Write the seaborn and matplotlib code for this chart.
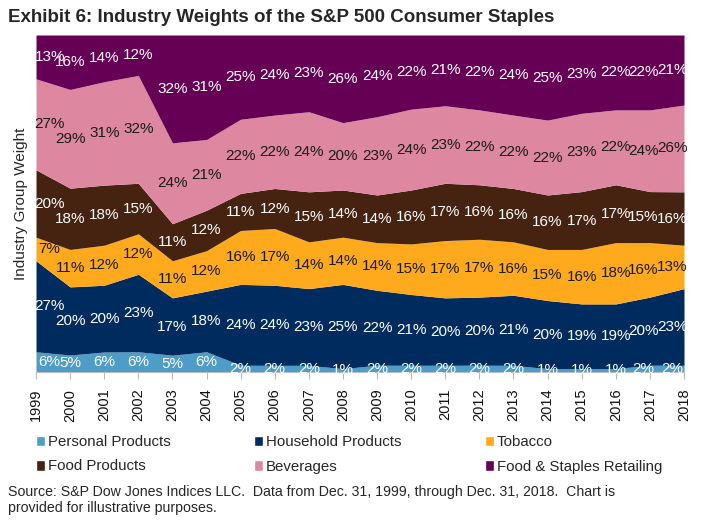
import numpy as np
import pandas as pd
import matplotlib
matplotlib.use("Agg")
import matplotlib.pyplot as plt
import seaborn as sns
from matplotlib.patches import Patch

# Industry group weights (%)
years = list(range(1999, 2019))
personal = [6, 5, 6, 6, 5, 6, 2, 2, 2, 1, 2, 2, 2, 2, 2, 1, 1, 1, 2, 2]
household = [27, 20, 20, 23, 17, 18, 24, 24, 23, 25, 22, 21, 20, 20, 21, 20, 19, 19, 20, 23]
tobacco = [7, 11, 12, 12, 11, 12, 16, 17, 14, 14, 14, 15, 17, 17, 16, 15, 16, 18, 16, 13]
food = [20, 18, 18, 15, 11, 12, 11, 12, 15, 14, 14, 16, 17, 16, 16, 16, 17, 17, 15, 16]
beverages = [27, 29, 31, 32, 24, 21, 22, 22, 24, 20, 23, 24, 23, 22, 22, 22, 23, 22, 24, 26]
retailing = [13, 16, 14, 12, 32, 31, 25, 24, 23, 26, 24, 22, 21, 22, 24, 25, 23, 22, 22, 21]

names = ["Personal Products", "Household Products", "Tobacco",
         "Food Products", "Beverages", "Food & Staples Retailing"]
colors = ["#4E9CC8", "#002B5E", "#FFAA1C", "#462211", "#DD88A0", "#660055"]
text_colors = ["white", "white", "#1a1a1a", "white", "#1a1a1a", "white"]

df = pd.DataFrame(dict(zip(names, [personal, household, tobacco, food, beverages, retailing])),
                  index=years)

sns.set_style("white")
plt.rcParams['font.family'] = ['Liberation Sans', 'DejaVu Sans']

# rounded labels do not always add to 100, so scale each year to 100 for the areas
shares = df.div(df.sum(axis=1), axis=0) * 100

fig = plt.figure(figsize=(7.03, 5.30), dpi=100)
ax = fig.add_axes([36 / 703, 1 - 372 / 530, 648 / 703, 337 / 530])
ax.stackplot(shares.index, *[shares[c] for c in names], colors=colors, linewidth=0)
ax.set_xlim(1999, 2018)
ax.set_ylim(0, 100)

# percentage labels in the middle of each band, nudged inward at the ends
nudge = {1999: 0.4, 2017: -0.2, 2018: -0.35}
cum = shares.cumsum(axis=1)
for i, name in enumerate(names):
    mid = cum[name] - shares[name] / 2
    for yr in years:
        ax.text(yr + nudge.get(yr, 0), mid[yr], f"{df.loc[yr, name]}%", ha="center", va="center",
                fontsize=11, color=text_colors[i])

ax.set_xticks(years)
ax.set_xticklabels([str(y) for y in years], rotation=90, fontsize=10.5, color="#111111")
ax.set_yticks([])
ax.tick_params(axis="x", direction="out", length=5, color="#BBBBBB", bottom=True, pad=7)
for s in ["top", "right", "left"]:
    ax.spines[s].set_visible(False)
ax.spines["bottom"].set_color("#BBBBBB")
ax.set_ylabel("Industry Group Weight", fontsize=11, labelpad=6)

fig.text(8 / 703, 1 - 18 / 530, "Exhibit 6: Industry Weights of the S&P 500 Consumer Staples",
         fontsize=13.5, fontweight="bold", va="center", ha="left")

# legend, filled row by row
order = [0, 3, 1, 4, 2, 5]
handles = [Patch(facecolor=colors[i], label=names[i]) for i in order]
fig.legend(handles=handles, ncol=3, loc="upper left",
           bbox_to_anchor=(30 / 703, 1 - 429 / 530), frameon=False,
           fontsize=10.8, handlelength=0.6, handleheight=0.7, handletextpad=0.2,
           columnspacing=5.55, labelspacing=0.7, borderaxespad=0)

fig.text(8 / 703, 1 - 500 / 530,
         "Source: S&P Dow Jones Indices LLC.  Data from Dec. 31, 1999, through Dec. 31, 2018.  Chart is\n"
         "provided for illustrative purposes.",
         fontsize=10.2, va="center", ha="left", linespacing=1.15)

fig.savefig("out.png", dpi=100)
